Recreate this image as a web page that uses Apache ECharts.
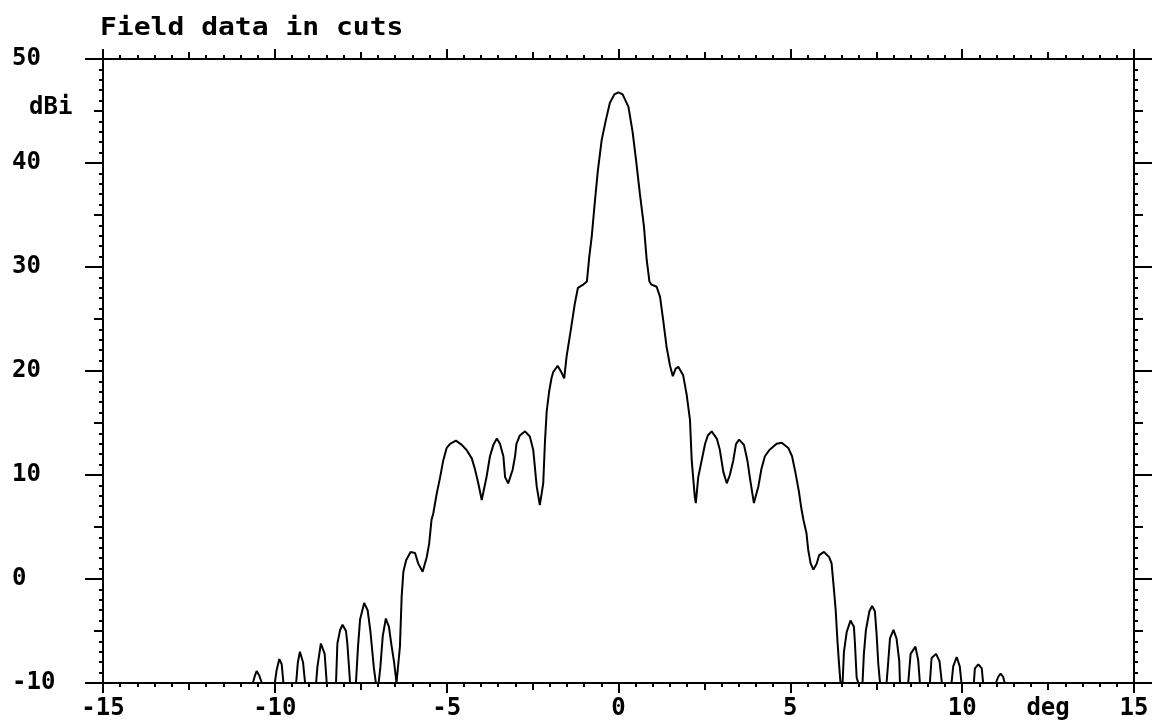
<!DOCTYPE html>
<html>
<head>
<meta charset="utf-8">
<script src="https://cdn.jsdelivr.net/npm/echarts@6/dist/echarts.min.js"></script>
<style>
html,body{margin:0;padding:0;background:#fff;}
#chart{width:1161px;height:722px;}
</style>
</head>
<body>
<div id="chart"></div>
<script>
// Angle (deg) and gain (dBi)
var angles = [
-10.70,-10.64,-10.58,-10.53,-10.45,-10.38,
-10.00,-9.95,-9.87,-9.80,-9.75,
-9.38,-9.33,-9.27,-9.18,-9.12,
-8.80,-8.76,-8.66,-8.55,-8.49,
-8.22,-8.18,-8.10,-8.03,-7.93,-7.89,-7.81,
-7.64,-7.58,-7.52,-7.40,-7.30,-7.22,-7.12,-7.06,
-6.98,-6.93,-6.86,-6.77,-6.68,-6.60,-6.53,-6.46,-6.42,
-6.36,-6.31,-6.26,-6.18,-6.05,-5.92,-5.83,-5.70,-5.58,-5.51,-5.44,-5.39,-5.29,-5.19,-5.10,-5.00,-4.90,-4.73,
-4.56,-4.42,-4.27,-4.18,-4.08,-3.98,-3.84,-3.74,-3.64,-3.54,-3.45,-3.35,-3.30,-3.21,-3.08,-3.01,-2.97,-2.87,-2.72,
-2.58,-2.48,-2.38,-2.29,-2.19,-2.14,-2.09,-2.02,-1.95,-1.90,-1.77,-1.65,-1.58,-1.51,-1.39,-1.27,-1.18,-1.03,-0.92,
-0.85,-0.78,-0.69,-0.60,-0.49,-0.37,-0.25,-0.12,0,
0.12,0.29,0.41,0.51,0.62,0.74,0.82,0.90,0.96,1.11,1.21,1.30,1.40,1.50,1.58,1.66,1.74,1.88,1.98,2.08,2.13,2.22,2.25,
2.32,2.42,2.52,2.60,2.71,2.86,2.95,3.05,3.15,3.24,3.34,3.42,3.51,3.65,3.75,3.82,3.94,4.07,4.16,4.26,4.39,4.60,4.75,4.94,
5.05,5.15,5.25,5.32,5.38,5.47,5.52,5.59,5.67,5.77,5.84,5.98,6.13,6.20,6.25,6.32,6.37,6.42,6.46,
6.52,6.56,6.64,6.75,6.85,6.88,6.93,6.98,
7.10,7.14,7.20,7.30,7.38,7.46,7.51,7.56,7.61,
7.80,7.85,7.90,8.00,8.09,8.17,8.19,
8.43,8.50,8.64,8.72,8.77,
9.06,9.11,9.24,9.34,9.41,
9.69,9.74,9.84,9.93,9.98,
10.34,10.37,10.47,10.57,10.61,
10.98,11.05,11.12,11.19,11.24,11.30
];
var gain = [
-10,-10,-9.3,-8.85,-9.3,-10,
-10,-8.8,-7.7,-8.2,-10,
-10,-8.0,-7.0,-8.0,-10,
-10,-8.4,-6.2,-7.2,-10,
-10,-6.2,-4.9,-4.4,-5.0,-6.2,-10,
-10,-6.5,-3.9,-2.3,-3.0,-5.0,-8.5,-10,
-10,-8.5,-5.5,-3.8,-4.6,-6.5,-8.0,-10,-10,
-6.5,-1.7,0.7,1.8,2.6,2.5,1.5,0.7,2.1,3.4,5.7,6.3,8.2,9.8,11.4,12.6,13.0,13.3,
12.9,12.4,11.6,10.6,9.2,7.6,9.8,11.8,12.9,13.5,13.0,11.8,9.8,9.2,10.5,11.8,13.0,13.8,14.2,
13.7,12.4,8.9,7.1,9.2,13.2,16.1,18.0,19.3,19.9,20.5,19.8,19.3,21.4,23.9,26.5,28.0,28.3,28.6,
31.0,32.9,36.2,39.3,42.2,44.1,45.8,46.6,46.8,
46.6,45.4,43.0,40.3,37.1,33.9,30.7,28.6,28.3,28.1,27.1,24.9,22.3,20.5,19.5,20.2,20.4,19.6,17.8,15.3,11.4,7.9,7.3,
9.8,11.4,13.0,13.8,14.2,13.5,12.4,10.3,9.2,10.0,11.4,13.0,13.4,12.9,11.4,9.8,7.3,8.9,10.6,11.8,12.4,13.0,13.1,12.6,
11.8,10.2,8.4,6.8,5.7,4.4,2.8,1.5,0.9,1.5,2.3,2.6,2.1,1.5,-0.3,-3.0,-5.9,-8.3,-10,
-10,-7.0,-5.1,-4.0,-4.6,-6.2,-9.5,-10,
-10,-7.2,-4.9,-3.1,-2.6,-3.1,-5.3,-8.2,-10,
-10,-7.9,-5.7,-4.9,-5.7,-7.9,-10,
-10,-7.2,-6.5,-7.8,-10,
-10,-7.6,-7.2,-7.9,-10,
-10,-8.4,-7.5,-8.4,-10,
-10,-8.6,-8.2,-8.6,-10,
-10,-9.4,-9.1,-9.4,-10,-10
];
var xTickLabels = {'-15':'-15','-10':'-10','-5':'-5','0':'0','5':'5','10':'10','12.5':'deg','15':'15'};
var yTickLabels = {'-10':'-10','0':'0','10':'10','20':'20','30':'30','40':'40','50':'50'};
var titleText = 'Field data in cuts';
var yUnit = 'dBi';

var points = angles.map(function(a, i){ return [a, gain[i]]; });

var FONT = 'DejaVu Sans Mono';
var black = '#000';
var lineW = 2;

function xAx(pos, interval, tickLen, minor, labels){
  return {
    type:'value', position:pos, min:-15, max:15, interval:interval,
    axisLine:{show:true, onZero:false, lineStyle:{color:black, width:lineW}},
    axisTick:{show:true, inside:false, length:tickLen, lineStyle:{color:black, width:lineW}},
    minorTick:{show:minor, splitNumber:5, length:4, lineStyle:{color:black, width:lineW}},
    splitLine:{show:false},
    axisLabel:{show:labels, interval:0, margin:14, color:black, fontFamily:FONT, fontWeight:'bold', fontSize:24,
      formatter:function(v){ var k=String(v); return xTickLabels[k]!==undefined?xTickLabels[k]:''; }}
  };
}
function yAx(pos, interval, tickLen, minor, labels){
  return {
    type:'value', position:pos, min:-10, max:50, interval:interval,
    axisLine:{show:true, onZero:false, lineStyle:{color:black, width:lineW}},
    axisTick:{show:true, inside:false, length:tickLen, lineStyle:{color:black, width:lineW}},
    minorTick:{show:minor, splitNumber:5, length:4, lineStyle:{color:black, width:lineW}},
    splitLine:{show:false},
    axisLabel:{show:labels, interval:0, margin:91, align:'left', verticalAlign:'middle', padding:[0,0,7,0],
      color:black, fontFamily:FONT, fontWeight:'bold', fontSize:24,
      formatter:function(v){ var k=String(v); return yTickLabels[k]!==undefined?yTickLabels[k]:''; }}
  };
}

var chart = echarts.init(document.getElementById('chart'), null, {renderer:'canvas'});
chart.setOption({
  backgroundColor:'#fff',
  animation:false,
  grid:{left:103, top:59, width:1031, height:624, containLabel:false},
  xAxis:[
    xAx('bottom', 2.5, 7, true, true),
    xAx('bottom', 5, 10, false, false),
    xAx('top', 2.5, 7, true, false),
    xAx('top', 5, 10, false, false)
  ],
  yAxis:[
    yAx('left', 5, 9, true, false),
    yAx('left', 10, 18, false, true),
    yAx('right', 5, 9, true, false),
    yAx('right', 10, 18, false, false)
  ],
  graphic:[
    {type:'text', left:100, top:16, scaleX:1.12,
     style:{text:titleText, fill:black, font:'bold 25px "DejaVu Sans Mono"'}},
    {type:'text', left:29, top:96,
     style:{text:yUnit, fill:black, font:'bold 24px "DejaVu Sans Mono"'}}
  ],
  series:[{
    type:'line', xAxisIndex:0, yAxisIndex:0, data:points,
    showSymbol:false, symbol:'none', smooth:false, clip:true,
    lineStyle:{color:black, width:2}
  }]
});
</script>
</body>
</html>
